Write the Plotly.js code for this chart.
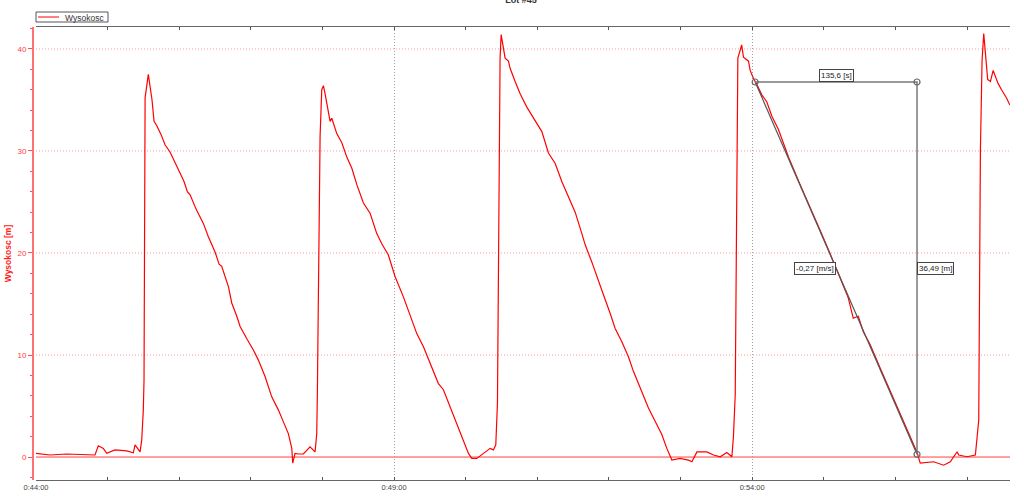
<!DOCTYPE html>
<html>
<head>
<meta charset="utf-8">
<script src="https://cdn.plot.ly/plotly-3.0.1.min.js"></script>
<style>html,body{margin:0;padding:0;background:#fff;}#chart{width:1024px;height:498px;}</style>
</head>
<body>
<div id="chart"></div>
<script>
// seconds after 0:44:00
const timeSec = [0, 11.7, 25.7, 39.6, 49.4, 52.2, 56.4, 59.2, 66.2, 76.0,
  81.5, 83.0, 85.7, 87.2, 88.6, 89.9, 90.5, 91.0, 91.4, 94.1,
  96.4, 97.2, 98.9, 101.1, 104.8, 108.1, 112.3, 115.6, 119.3, 124.0,
  126.8, 129.1, 134.1, 140.2, 144.4, 150.0, 153.4, 155.6, 161.2, 164.0,
  168.2, 171.0, 177.1, 182.1, 186.3, 191.9, 197.5, 203.1, 207.8, 211.4,
  214.3, 215.1, 217.0, 219.8, 224.0, 229.6, 233.8, 235.2, 235.7, 236.7,
  238.0, 239.4, 240.8, 242.2, 243.6, 246.4, 247.8, 252.0, 256.2, 260.4,
  264.6, 268.8, 274.3, 279.9, 285.5, 289.7, 295.2, 300.8, 307.8, 313.4,
  319.0, 324.6, 330.2, 337.1, 341.3, 346.9, 352.6, 358.1, 362.3, 365.1,
  369.3, 374.9, 380.5, 383.2, 385.2, 386.6, 387.4, 388.8, 389.7, 391.6,
  393.0, 395.8, 397.2, 401.4, 405.6, 411.2, 416.7, 423.8, 429.3, 434.9,
  440.5, 446.1, 451.7, 457.3, 460.1, 465.7, 469.9, 475.4, 481.0, 485.2,
  490.8, 496.4, 500.5, 506.2, 513.1, 518.7, 524.3, 528.5, 532.7, 539.6,
  546.6, 549.5, 553.7, 562.0, 567.6, 573.2, 578.8, 583.0, 584.3, 585.8,
  587.2, 588.0, 590.0, 591.2, 592.7, 596.9, 598.3, 601.1, 603.9, 608.1,
  612.3, 616.5, 622.0, 627.7, 630.4, 640.2, 648.6, 657.0, 665.4, 673.8,
  680.5, 684.7, 688.9, 693.0, 698.9, 707.3, 715.7, 724.1, 732.4, 738.3,
  740.8, 752.0, 760.4, 766.0, 771.7, 773.0, 780.0, 787.0, 788.4, 789.8,
  791.2, 792.6, 794.0, 795.4, 797.3, 799.6, 801.9, 804.7, 806.1, 808.9,
  813.1, 815.9];
const heightM = [0.36, 0.2, 0.3, 0.2, 0.2, 1.1, 0.85, 0.36, 0.7, 0.6,
  0.42, 1.2, 0.7, 0.5, 1.7, 4.6, 7.5, 30.0, 35.2, 37.5,
  35.6, 35.0, 32.9, 32.5, 31.6, 30.6, 29.9, 29.1, 28.3, 27.0,
  26.0, 25.7, 24.3, 22.9, 21.6, 20.1, 18.9, 18.7, 16.7, 15.1,
  13.8, 12.8, 11.5, 10.5, 9.5, 7.9, 5.9, 4.6, 3.3, 2.3,
  0.85, -0.6, 0.36, 0.3, 0.3, 1.0, 0.5, 2.3, 6.0, 18.0,
  31.4, 36.0, 36.4, 35.6, 34.7, 32.9, 33.2, 31.7, 30.8, 29.4,
  28.3, 26.7, 24.9, 23.9, 21.9, 20.9, 19.8, 17.7, 15.7, 13.8,
  12.1, 10.8, 9.2, 7.2, 6.6, 4.9, 3.3, 1.7, 0.36, -0.13,
  -0.13, 0.36, 0.85, 0.7, 1.2, 5.3, 19.0, 39.1, 41.4, 40.1,
  39.1, 38.8, 38.1, 36.8, 35.6, 34.3, 33.2, 31.9, 29.8, 28.8,
  27.0, 25.5, 24.0, 21.9, 20.8, 19.1, 17.8, 15.9, 14.1, 12.6,
  11.3, 9.8, 8.4, 6.7, 4.8, 3.5, 2.2, 0.85, -0.3, -0.13,
  -0.3, -0.46, 0.5, 0.5, 0.2, 0.03, 0.45, 0.03, 2.0, 6.1,
  26.0, 39.1, 39.9, 40.4, 39.2, 38.8, 37.9, 37.1, 36.5, 35.5,
  34.8, 33.4, 32.1, 30.4, 29.4, 26.7, 24.5, 22.2, 19.9, 17.6,
  15.6, 13.6, 13.8, 12.3, 11.0, 8.7, 6.5, 4.2, 2.0, 0.4,
  -0.6, -0.46, -0.8, -0.46, 0.52, 0.2, 0.03, 0.2, 1.7, 3.6,
  30.0, 38.9, 41.5, 39.5, 37.0, 36.8, 37.9, 37.0, 36.6, 36.0,
  35.2, 34.5];

const tickVals = [0, 300, 600];
const tickText = ['0:44:00', '0:49:00', '0:54:00'];
const gridValsY = [10, 20, 30, 40];

// measurement tool: start and end points (time s, height m)
const measureT = [602.5, 738.1];
const measureV = [36.76, 0.27];
const measureLabels = ['135,6 [s]', '-0,27 [m/s]', '36,49 [m]'];

const seriesName = 'Wysokosc';
const chartTitle = 'Lot #45';
const yTitle = 'Wysokosc [m]';

const FONT = 'Liberation Sans, Arial, sans-serif';
const W = 1024, H = 498;
const mL = 32, mR = 14, mT = 27, mB = 18;
const pw = W - mL - mR, ph = H - mT - mB;
const px = v => (v - mL) / pw;       // pixel x -> paper
const py = v => (H - mB - v) / ph;   // pixel y -> paper
const domStart = px(36);

const yRange = [-2.25, 42.15];

const traces = [
  {x: timeSec, y: heightM, type: 'scatter', mode: 'lines', name: seriesName,
   line: {color: '#ff0000', width: 1.2}, xaxis: 'x', yaxis: 'y', hoverinfo: 'skip'},
  {x: [measureT[0], measureT[1]], y: [measureV[0], measureV[1]], type: 'scatter', mode: 'lines',
   line: {color: '#555555', width: 1.2}, xaxis: 'x', yaxis: 'y', showlegend: false, hoverinfo: 'skip'},
  {x: [measureT[0], measureT[1], measureT[1]], y: [measureV[0], measureV[0], measureV[1]],
   type: 'scatter', mode: 'lines+markers',
   line: {color: '#7a7a7a', width: 1.5},
   marker: {symbol: 'circle-open', size: 6, color: '#666666', line: {width: 1.2}},
   xaxis: 'x', yaxis: 'y', showlegend: false, hoverinfo: 'skip'}
];

const labelStyle = {font: {family: FONT, size: 8, color: '#222'}, bgcolor: '#ffffff',
  bordercolor: '#444', borderwidth: 1, borderpad: 1, showarrow: false, xref: 'x', yref: 'y'};

const midT = (measureT[0] + measureT[1]) / 2;
const midV = (measureV[0] + measureV[1]) / 2;

const layout = {
  width: W, height: H,
  margin: {l: mL, r: mR, t: mT, b: mB},
  paper_bgcolor: '#ffffff', plot_bgcolor: '#ffffff',
  showlegend: false,
  title: {text: '<b>' + chartTitle + '</b>', x: 0.5, xref: 'paper', xanchor: 'center', y: 1, yanchor: 'middle',
          font: {family: FONT, size: 9, color: '#333'}},
  xaxis: {domain: [domStart, 1], range: [0, 816], anchor: 'y2',
    tickmode: 'array', tickvals: tickVals, ticktext: tickText,
    showline: true, linecolor: '#666', linewidth: 1, mirror: 'ticks',
    ticks: 'inside', ticklen: 3, tickcolor: '#555',
    minor: {tickmode: 'linear', tick0: 0, dtick: 60, ticks: 'inside', ticklen: 3, tickcolor: '#555', showgrid: false},
    showgrid: true, gridcolor: '#a0a0a0', griddash: '1px,2px', gridwidth: 1,
    zeroline: false,
    tickfont: {family: FONT, size: 7.5, color: '#444'}},
  yaxis: {range: yRange, anchor: 'free', position: 0,
    showline: true, linecolor: '#ff7070', linewidth: 1.5,
    ticks: 'outside', ticklen: 4, tickcolor: '#ff5050', dtick: 10, tick0: 0,
    minor: {dtick: 2, tick0: 0, ticks: 'outside', ticklen: 2, tickcolor: '#ff5050', showgrid: false},
    showgrid: false, zeroline: false,
    tickfont: {family: FONT, size: 8, color: '#ff4040'},
    title: {text: '<b>' + yTitle + '</b>', font: {family: FONT, size: 8.5, color: '#ff2020'}, standoff: 3}},
  yaxis2: {range: yRange, overlaying: 'y', anchor: 'x', side: 'left',
    showline: true, linecolor: '#555', linewidth: 1.5, mirror: true,
    ticks: 'inside', ticklen: 2, dtick: 0.5, tickcolor: '#666',
    showticklabels: false, showgrid: false, zeroline: false},
  shapes: [
    // horizontal dotted grid
    ...gridValsY.map(g => ({type: 'line', xref: 'x domain', x0: 0, x1: 1, yref: 'y', y0: g, y1: g,
      line: {color: '#ff9a9a', width: 1, dash: '1px,2px'}, layer: 'below'})),
    // zero reference line
    {type: 'line', xref: 'x domain', x0: 0, x1: 1, yref: 'y', y0: 0, y1: 0,
     line: {color: '#ff4040', width: 1}, layer: 'below'},
    // legend box
    {type: 'rect', xref: 'paper', yref: 'paper', x0: px(36), x1: px(108), y0: py(22), y1: py(12),
     line: {color: '#555', width: 1}, fillcolor: '#ffffff'},
    {type: 'line', xref: 'paper', yref: 'paper', x0: px(38), x1: px(59), y0: py(17), y1: py(17),
     line: {color: '#ff0000', width: 1}}
  ],
  annotations: [
    {xref: 'paper', yref: 'paper', x: px(63), y: py(17.5), xanchor: 'left', yanchor: 'middle',
     text: seriesName, showarrow: false, font: {family: FONT, size: 8.5, color: '#333'}},
    Object.assign({}, labelStyle, {x: midT, y: measureV[0], xanchor: 'center', yanchor: 'bottom', text: measureLabels[0]}),
    Object.assign({}, labelStyle, {x: midT, y: midV, xanchor: 'right', yanchor: 'middle', text: measureLabels[1]}),
    Object.assign({}, labelStyle, {x: measureT[1], y: midV, xanchor: 'left', yanchor: 'middle', text: measureLabels[2]})
  ]
};

Plotly.newPlot('chart', traces, layout, {displayModeBar: false, staticPlot: true});
</script>
</body>
</html>
